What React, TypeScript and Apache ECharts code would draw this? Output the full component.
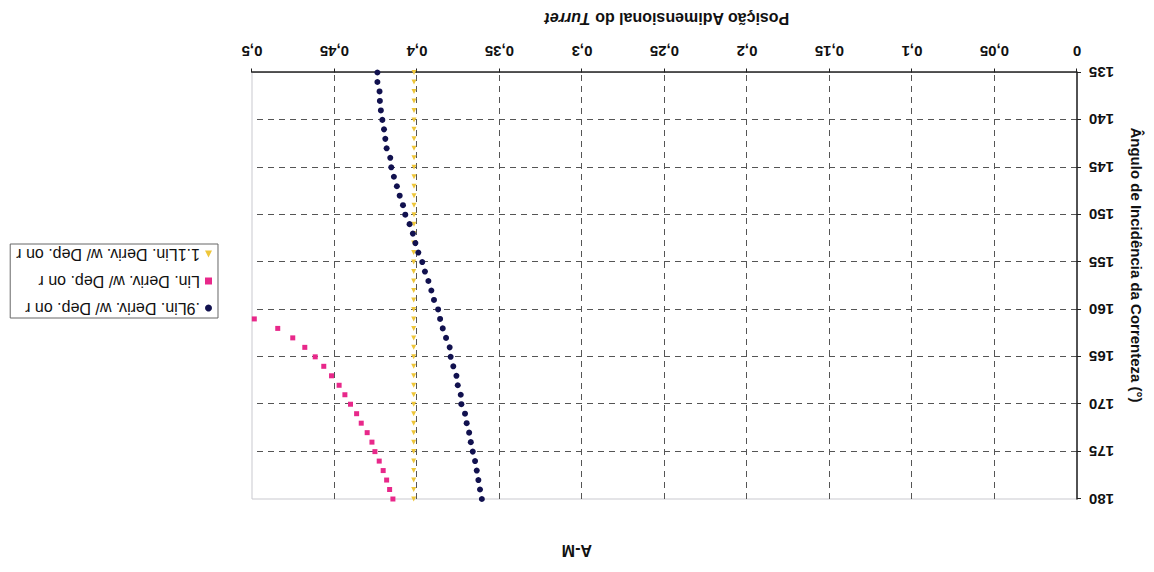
import React, { useEffect, useRef } from "react";
import * as echarts from "echarts";

const angles = [135, 136, 137, 138, 139, 140, 141, 142, 143, 144, 145, 146, 147, 148, 149, 150, 151, 152, 153, 154, 155, 156, 157, 158, 159, 160, 161, 162, 163, 164, 165, 166, 167, 168, 169, 170, 171, 172, 173, 174, 175, 176, 177, 178, 179, 180];

const navyValues = [0.424, 0.424, 0.4227, 0.4225, 0.4219, 0.421, 0.42, 0.4192, 0.4184, 0.4162, 0.4156, 0.414, 0.4122, 0.4105, 0.4085, 0.4071, 0.4045, 0.4025, 0.401, 0.3992, 0.3968, 0.3952, 0.3931, 0.3913, 0.3897, 0.3872, 0.386, 0.3844, 0.3824, 0.3802, 0.3796, 0.378, 0.3761, 0.3753, 0.3735, 0.3731, 0.3709, 0.3699, 0.3684, 0.3674, 0.3662, 0.3648, 0.3638, 0.3628, 0.3618, 0.3607];

const pinkAngles = [161, 162, 163, 164, 165, 166, 167, 168, 169, 170, 171, 172, 173, 174, 175, 176, 177, 178, 179, 180];
const pinkValues = [0.4986, 0.4844, 0.4753, 0.468, 0.4617, 0.4565, 0.4518, 0.4472, 0.4437, 0.4403, 0.4366, 0.4338, 0.4302, 0.4273, 0.4255, 0.4229, 0.4205, 0.4184, 0.4166, 0.4146];

const yellowValues = [0.4018, 0.4018, 0.4018, 0.4018, 0.4018, 0.4018, 0.4018, 0.4018, 0.4018, 0.4018, 0.4018, 0.4018, 0.4018, 0.4018, 0.4018, 0.4018, 0.4018, 0.402, 0.402, 0.402, 0.402, 0.402, 0.402, 0.402, 0.402, 0.402, 0.402, 0.402, 0.402, 0.402, 0.402, 0.402, 0.402, 0.402, 0.402, 0.402, 0.402, 0.402, 0.402, 0.402, 0.402, 0.402, 0.402, 0.402, 0.402, 0.402];

const seriesNames = [".9Lin. Deriv. w/ Dep. on r", "Lin. Deriv. w/ Dep. on r", "1.1Lin. Deriv. w/ Dep. on r"];
const titleText = "A-M";
const xTitleMain = "Posição Adimensional do ";
const xTitleItalic = "Turret";
const yTitle = "Ângulo de Incidência da Correnteza (°)";

const FONT = "'Liberation Sans', Arial, sans-serif";

export default function App() {
  const ref = useRef<HTMLDivElement>(null);
  useEffect(() => {
    if (!ref.current) return;
    const chart = echarts.init(ref.current, undefined, { renderer: "svg" });
    const navyData = angles.map((a, i) => [navyValues[i], a]);
    const pinkData = pinkAngles.map((a, i) => [pinkValues[i], a]);
    const yellowData = angles.map((a, i) => [yellowValues[i], a]);
    chart.setOption({
      animation: false,
      backgroundColor: "#ffffff",
      textStyle: { fontFamily: FONT },
      title: {
        text: titleText,
        left: 557,
        top: 9,
        textStyle: { fontFamily: FONT, fontSize: 16, fontWeight: "bold", color: "#111" },
      },
      grid: {
        left: 77,
        right: 252,
        top: 73,
        bottom: 72.5,
        containLabel: false,
        show: true,
        borderColor: "#c9c9cf",
        borderWidth: 1,
      },
      legend: {
        orient: "vertical",
        left: 936,
        top: 254,
        padding: [2, 6, 2, 6],
        itemGap: 11,
        itemWidth: 7,
        itemHeight: 7,
        borderColor: "#666",
        borderWidth: 1,
        backgroundColor: "#fff",
        textStyle: { fontFamily: FONT, fontSize: 16, color: "#111" },
        data: seriesNames,
      },
      xAxis: {
        type: "value",
        min: 0,
        max: 0.5,
        interval: 0.05,
        axisLine: { show: true, onZero: false, lineStyle: { color: "#222", width: 1.5 } },
        axisTick: { show: true, inside: false, length: 4, lineStyle: { color: "#222" } },
        axisLabel: {
          margin: 14,
          fontFamily: FONT,
          fontSize: 15,
          fontWeight: "bold",
          color: "#111",
          formatter: (v: number) => String(+v.toFixed(2)).replace(".", ","),
        },
        splitLine: {
          show: true,
          showMinLine: false,
          showMaxLine: false,
          lineStyle: { type: [6, 5], color: "#555", width: 1 },
        },
      },
      yAxis: {
        type: "value",
        min: 135,
        max: 180,
        interval: 5,
        axisLine: { show: true, onZero: false, lineStyle: { color: "#222", width: 1.5 } },
        axisTick: { show: true, inside: false, length: 4, lineStyle: { color: "#222" } },
        axisLabel: {
          margin: 12,
          fontFamily: FONT,
          fontSize: 15,
          fontWeight: "bold",
          color: "#111",
        },
        splitLine: {
          show: true,
          showMinLine: false,
          showMaxLine: false,
          lineStyle: { type: [6, 5], color: "#555", width: 1 },
        },
      },
      graphic: [
        {
          type: "text",
          x: 487,
          y: 554,
          style: {
            text: `{a|${xTitleMain}}{b|${xTitleItalic}}`,
            align: "center",
            verticalAlign: "middle",
            rich: {
              a: { fontFamily: FONT, fontSize: 16, fontWeight: "bold", fill: "#111" },
              b: { fontFamily: FONT, fontSize: 16, fontWeight: "bold", fontStyle: "italic", fill: "#111" },
            },
          },
        },
        {
          type: "text",
          x: 18,
          y: 307,
          rotation: Math.PI / 2,
          style: {
            text: yTitle,
            align: "center",
            verticalAlign: "middle",
            fontFamily: FONT,
            fontSize: 15,
            fontWeight: "bold",
            fill: "#111",
          },
        },
      ],
      series: [
        {
          name: seriesNames[0],
          type: "scatter",
          data: navyData,
          symbol: "circle",
          symbolSize: 6,
          itemStyle: { color: "#11114f", opacity: 1 },
          z: 3,
        },
        {
          name: seriesNames[1],
          type: "scatter",
          data: pinkData,
          symbol: "rect",
          symbolSize: 5,
          itemStyle: { color: "#e8288a", opacity: 1 },
          z: 2,
        },
        {
          name: seriesNames[2],
          type: "scatter",
          data: yellowData,
          symbol: "triangle",
          symbolSize: 5,
          itemStyle: { color: "#eec63a", opacity: 1 },
          z: 2,
        },
      ],
    });
    return () => chart.dispose();
  }, []);
  return (
    <div
      ref={ref}
      style={{
        position: "absolute",
        left: 0,
        top: 0,
        width: 1154,
        height: 572,
        transform: "rotate(180deg)",
        transformOrigin: "50% 50%",
      }}
    />
  );
}
